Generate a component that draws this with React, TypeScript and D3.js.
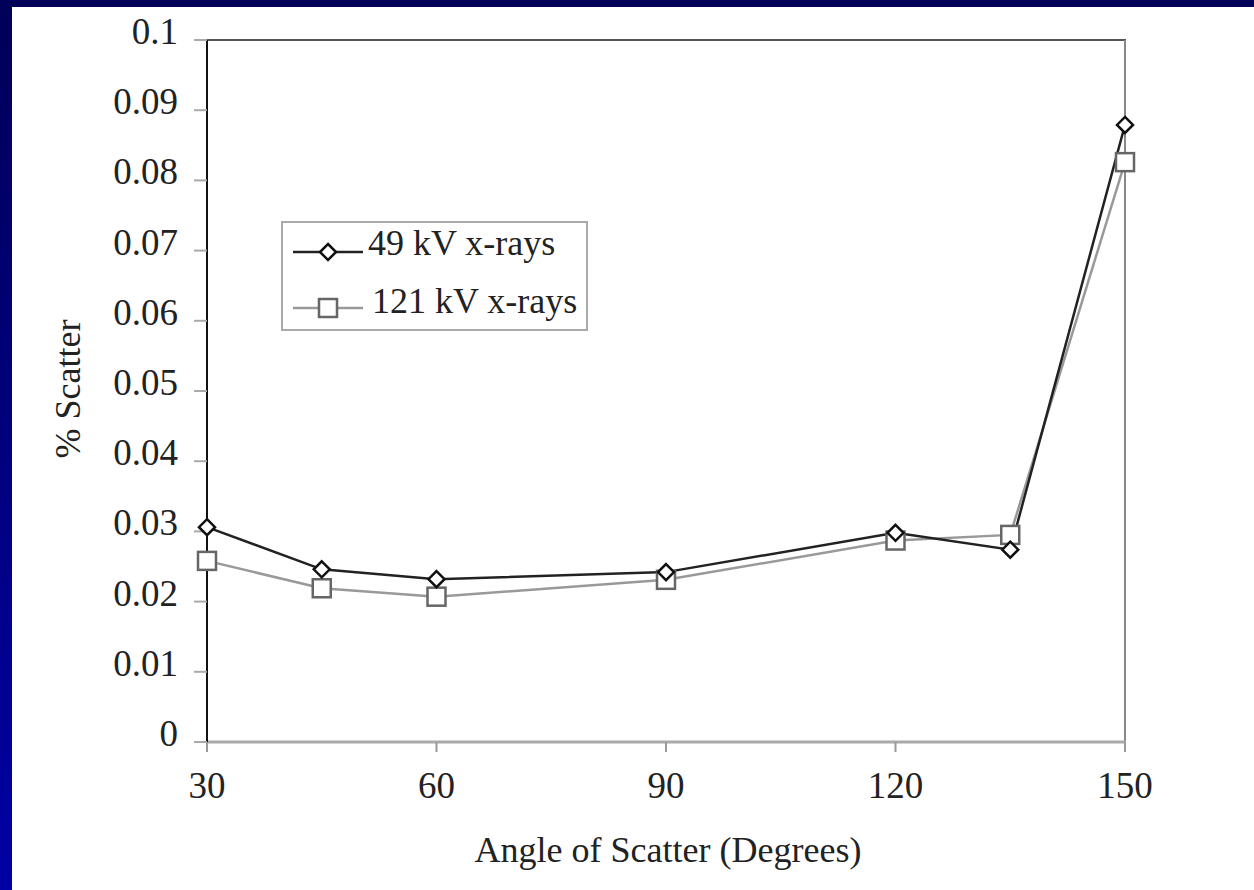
import React from 'react';
import * as d3 from 'd3';

// angles of scatter (degrees) and % scatter
const angles = [30, 45, 60, 90, 120, 135, 150];
const kv49 = [0.0306, 0.0246, 0.0232, 0.0242, 0.0298, 0.0274, 0.0879];
const kv121 = [0.0258, 0.0219, 0.0207, 0.0231, 0.0287, 0.0295, 0.0826];

const xTicks = [30, 60, 90, 120, 150];
const yTicks = [0, 0.01, 0.02, 0.03, 0.04, 0.05, 0.06, 0.07, 0.08, 0.09, 0.1];

const seriesNames = ['49 kV x-rays', '121 kV x-rays'];

const W = 1254;
const H = 890;
const FONT = '"Liberation Serif", "Times New Roman", serif';

const App = () => {
  const x = d3.scaleLinear().domain([30, 150]).range([207, 1125]);
  const y = d3.scaleLinear().domain([0, 0.1]).range([742, 40]);

  const line = d3
    .line<number>()
    .x((_, i) => x(angles[i]))
    .y((d) => y(d));

  const diamond = (cx: number, cy: number, r = 8) =>
    `M${cx},${cy - r}L${cx + r},${cy}L${cx},${cy + r}L${cx - r},${cy}Z`;

  return (
    <svg
      width={W}
      height={H}
      style={{ position: 'absolute', left: 0, top: 0, display: 'block' }}
    >
      <defs>
        <linearGradient id="bg" x1="0" y1="0" x2="0" y2="1">
          <stop offset="0" stopColor="#000058" />
          <stop offset="1" stopColor="#0000a4" />
        </linearGradient>
      </defs>
      <rect x={0} y={0} width={W} height={H} fill="url(#bg)" />
      <rect x={12} y={7} width={W - 12} height={H - 7} fill="#fff" />

      {/* frame */}
      <line x1={207} x2={1126} y1={40} y2={40} stroke="#555" strokeWidth={2} />
      <line x1={1125} x2={1125} y1={40} y2={743} stroke="#888" strokeWidth={2} />
      <line x1={207} x2={1126} y1={742} y2={742} stroke="#aaa" strokeWidth={3} />
      <line x1={207} x2={207} y1={40} y2={742} stroke="#111" strokeWidth={2} />

      {/* y axis */}
      {yTicks.map((t) => (
        <g key={t}>
          <line x1={194} x2={207} y1={y(t)} y2={y(t)} stroke="#aaa" strokeWidth={2} />
          <text
            x={178}
            y={y(t) + 4}
            textAnchor="end"
            fontFamily={FONT}
            fontSize={37}
            fill="#222"
          >
            {String(+t.toFixed(2))}
          </text>
        </g>
      ))}

      {/* x axis */}
      {xTicks.map((t) => (
        <g key={t}>
          <line x1={x(t)} x2={x(t)} y1={742} y2={752} stroke="#999" strokeWidth={2} />
          <text
            x={x(t)}
            y={798}
            textAnchor="middle"
            fontFamily={FONT}
            fontSize={37}
            fill="#222"
          >
            {t}
          </text>
        </g>
      ))}

      <text
        x={668}
        y={862}
        textAnchor="middle"
        fontFamily={FONT}
        fontSize={36}
        fill="#222"
      >
        Angle of Scatter (Degrees)
      </text>
      <text
        transform="translate(80,389) rotate(-90)"
        textAnchor="middle"
        fontFamily={FONT}
        fontSize={36}
        fill="#222"
      >
        % Scatter
      </text>

      {/* series */}
      <path d={line(kv121) ?? ''} fill="none" stroke="#999" strokeWidth={2.5} />
      <path d={line(kv49) ?? ''} fill="none" stroke="#222" strokeWidth={2.5} />
      {kv121.map((v, i) => (
        <rect
          key={'s' + i}
          x={x(angles[i]) - 9}
          y={y(v) - 9}
          width={18}
          height={18}
          fill="#fff"
          stroke="#666"
          strokeWidth={2.5}
        />
      ))}
      {kv49.map((v, i) => (
        <path
          key={'d' + i}
          d={diamond(x(angles[i]), y(v))}
          fill="#fff"
          stroke="#111"
          strokeWidth={2.5}
        />
      ))}

      {/* legend */}
      <rect x={282} y={222} width={305} height={108} fill="#fff" stroke="#aaa" strokeWidth={2} />
      <line x1={293} x2={363} y1={252} y2={252} stroke="#222" strokeWidth={2.5} />
      <path d={diamond(328, 252)} fill="#fff" stroke="#111" strokeWidth={2.5} />
      <text x={368} y={255} fontFamily={FONT} fontSize={36} fill="#222">
        {seriesNames[0]}
      </text>
      <line x1={293} x2={363} y1={308} y2={308} stroke="#999" strokeWidth={2.5} />
      <rect x={319} y={299} width={18} height={18} fill="#fff" stroke="#666" strokeWidth={2.5} />
      <text x={372} y={313} fontFamily={FONT} fontSize={36} fill="#222">
        {seriesNames[1]}
      </text>
    </svg>
  );
};

export default App;
